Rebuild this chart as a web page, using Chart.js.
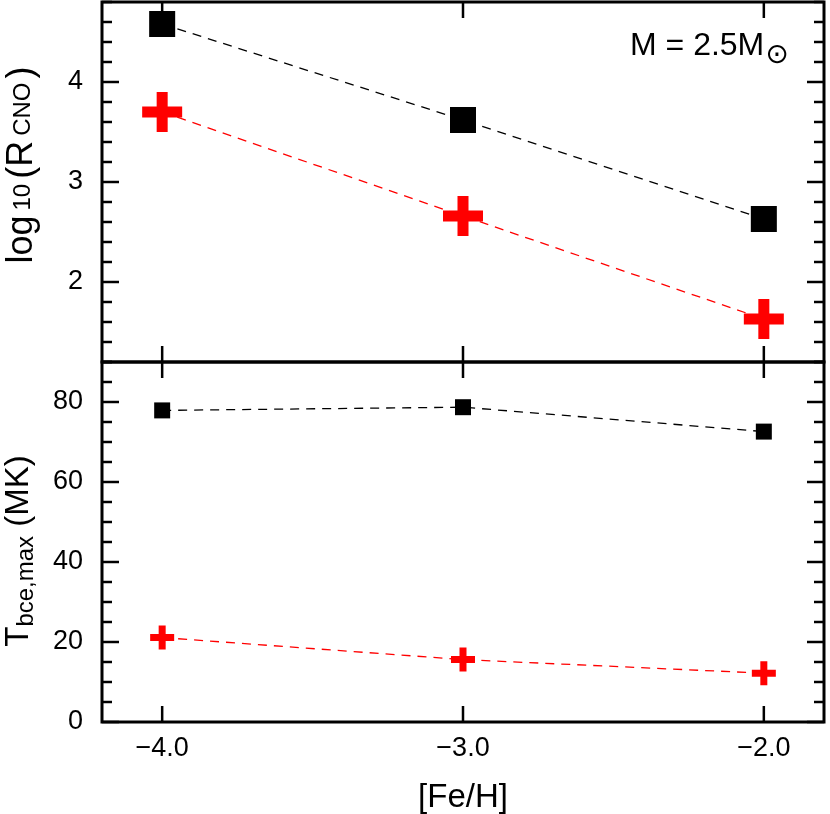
<!DOCTYPE html>
<html>
<head>
<meta charset="utf-8">
<script src="https://cdn.jsdelivr.net/npm/chart.js@4"></script>
<style>
  html, body { margin: 0; padding: 0; background: #fff; }
  canvas { display: block; }
</style>
</head>
<body>
<canvas id="chart" width="830" height="814"></canvas>
<script>
// metallicity grid
const feH = [-4.0, -3.0, -2.0];

// top panel: log10(R_CNO)
const logRSquares = [4.58, 3.62, 2.63];
const logRCrosses = [3.70, 2.66, 1.63];

// bottom panel: T_bce,max (MK)
const tbceSquares = [77.9, 78.7, 72.6];
const tbceCrosses = [21.1, 15.6, 12.2];

const FONT = 'Liberation Sans, Arial, Helvetica, sans-serif';

function toPoints(ys) {
    return feH.map((x, i) => ({ x: x, y: ys[i] }));
}

// rotated axis title built from pieces (subscripts are smaller and shifted)
function drawRichTitle(ctx, parts, x, cy) {
    ctx.save();
    ctx.translate(x, cy);
    ctx.rotate(-Math.PI / 2);
    let total = 0;
    parts.forEach(p => {
        ctx.font = p.size + 'px ' + FONT;
        p.w = ctx.measureText(p.text).width + (p.gap || 0);
        total += p.w;
    });
    let pos = -total / 2;
    ctx.fillStyle = '#000';
    ctx.textBaseline = 'alphabetic';
    ctx.textAlign = 'left';
    parts.forEach(p => {
        ctx.font = p.size + 'px ' + FONT;
        ctx.fillText(p.text, pos, p.shift || 0);
        pos += p.w;
    });
    ctx.restore();
}

// scales carry no padding of their own so the frame fills the canvas
function fixMargins(s) {
    s.paddingTop = 0;
    s.paddingBottom = 0;
    s.paddingLeft = 0;
    s.paddingRight = 0;
}

const framePlugin = {
    id: 'frame',
    afterDraw(chart) {
        const ctx = chart.ctx;
        const xs = chart.scales.x;
        const panels = [
            { scale: chart.scales.yTop, major: 1 },
            { scale: chart.scales.yBot, major: 20 }
        ];
        ctx.save();
        ctx.strokeStyle = '#000';
        ctx.lineCap = 'butt';
        const line = (x1, y1, x2, y2) => {
            ctx.beginPath();
            ctx.moveTo(x1, y1);
            ctx.lineTo(x2, y2);
            ctx.stroke();
        };
        panels.forEach(p => {
            const ys = p.scale;
            ctx.lineWidth = 2.5;
            ys.ticks.forEach(t => {
                if (t.value < ys.min - 1e-9 || t.value > ys.max + 1e-9) return;
                const py = ys.getPixelForValue(t.value);
                const r = t.value / p.major;
                const isMajor = Math.abs(r - Math.round(r)) < 1e-6;
                const len = isMajor ? 17 : 10;
                line(xs.left, py, xs.left + len, py);
                line(xs.right, py, xs.right - len, py);
            });
            xs.ticks.forEach(t => {
                const px = xs.getPixelForValue(t.value);
                line(px, ys.top, px, ys.top + 16);
                line(px, ys.bottom, px, ys.bottom - 16);
            });
            ctx.lineWidth = 3;
            ctx.strokeRect(xs.left, ys.top, xs.right - xs.left, ys.bottom - ys.top);
        });

        // y titles
        const yt = chart.scales.yTop;
        const yb = chart.scales.yBot;
        drawRichTitle(ctx, [
            { text: 'log', size: 36, gap: 5 },
            { text: '10', size: 24, shift: -2, gap: 5 },
            { text: '(R', size: 36, gap: 5 },
            { text: 'CNO', size: 24, shift: -2, gap: 4 },
            { text: ')', size: 36 }
        ], 32, (yt.top + yt.bottom) / 2 - 17);
        drawRichTitle(ctx, [
            { text: 'T', size: 33 },
            { text: 'bce,max', size: 24, shift: 5 },
            { text: ' (MK)', size: 33 }
        ], 28, (yb.top + yb.bottom) / 2 + 9);

        // mass annotation
        ctx.fillStyle = '#000';
        ctx.textAlign = 'left';
        ctx.textBaseline = 'alphabetic';
        ctx.font = '32px ' + FONT;
        const label = 'M = 2.5M';
        ctx.fillText(label, 630, 55);
        const w = ctx.measureText(label).width;
        ctx.font = '28px DejaVu Sans, ' + FONT;
        ctx.fillText('\u2299', 630 + w + 1, 63);
        ctx.restore();
    }
};

const yTickFont = { family: FONT, size: 27 };

new Chart(document.getElementById('chart'), {
    type: 'line',
    data: {
        datasets: [
            {
                label: 'log R squares',
                yAxisID: 'yTop',
                data: toPoints(logRSquares),
                borderColor: '#000',
                borderWidth: 1.3,
                borderDash: [9, 7],
                pointStyle: 'rect',
                pointRadius: 18.4,
                pointBackgroundColor: '#000',
                pointBorderColor: '#000',
                pointBorderWidth: 0
            },
            {
                label: 'log R crosses',
                yAxisID: 'yTop',
                data: toPoints(logRCrosses),
                borderColor: '#ff0000',
                borderWidth: 1.3,
                borderDash: [9, 7],
                pointStyle: 'cross',
                pointRadius: 20,
                pointBorderColor: '#ff0000',
                pointBorderWidth: 11
            },
            {
                label: 'Tbce squares',
                yAxisID: 'yBot',
                data: toPoints(tbceSquares),
                borderColor: '#000',
                borderWidth: 1.3,
                borderDash: [9, 7],
                pointStyle: 'rect',
                pointRadius: 11.3,
                pointBackgroundColor: '#000',
                pointBorderColor: '#000',
                pointBorderWidth: 0
            },
            {
                label: 'Tbce crosses',
                yAxisID: 'yBot',
                data: toPoints(tbceCrosses),
                borderColor: '#ff0000',
                borderWidth: 1.3,
                borderDash: [9, 7],
                pointStyle: 'cross',
                pointRadius: 12,
                pointBorderColor: '#ff0000',
                pointBorderWidth: 7
            }
        ]
    },
    options: {
        responsive: false,
        animation: false,
        devicePixelRatio: 1,
        layout: { autoPadding: false, padding: { top: 2, right: 6, left: 0, bottom: 0 } },
        plugins: {
            legend: { display: false },
            tooltip: { enabled: false }
        },
        scales: {
            // stacked scales are placed bottom-up in definition order
            yBot: {
                type: 'linear',
                position: 'left',
                stack: 'panels',
                stackWeight: 1,
                min: 0,
                max: 90,
                grid: { display: false, drawTicks: false },
                border: { display: false },
                ticks: {
                    stepSize: 5,
                    includeBounds: false,
                    autoSkip: false,
                    padding: 19,
                    color: '#000',
                    font: yTickFont,
                    callback: v => v % 20 === 0 ? String(v) : ''
                },
                afterFit: s => { s.width = 102; fixMargins(s); }
            },
            yTop: {
                type: 'linear',
                position: 'left',
                stack: 'panels',
                stackWeight: 1,
                min: 1.2,
                max: 4.8,
                grid: { display: false, drawTicks: false },
                border: { display: false },
                ticks: {
                    stepSize: 0.2,
                    includeBounds: false,
                    autoSkip: false,
                    padding: 19,
                    color: '#000',
                    font: yTickFont,
                    callback: v => Math.abs(v - Math.round(v)) < 1e-6 ? String(Math.round(v)) : ''
                },
                afterFit: s => { s.width = 102; fixMargins(s); }
            },
            x: {
                type: 'linear',
                position: 'bottom',
                min: -4.2,
                max: -1.8,
                grid: { display: false, drawTicks: false },
                border: { display: false },
                ticks: {
                    stepSize: 1,
                    includeBounds: false,
                    padding: 10,
                    color: '#000',
                    font: { family: FONT, size: 27 },
                    callback: v => (v < 0 ? '\u2212' : '') + Math.abs(v).toFixed(1)
                },
                title: {
                    display: true,
                    text: '[Fe/H]',
                    color: '#000',
                    font: { family: FONT, size: 33, lineHeight: 1 },
                    padding: { top: 0, bottom: 0 }
                },
                afterFit: s => { s.height = 92; fixMargins(s); }
            }
        }
    },
    plugins: [framePlugin]
});
</script>
</body>
</html>
